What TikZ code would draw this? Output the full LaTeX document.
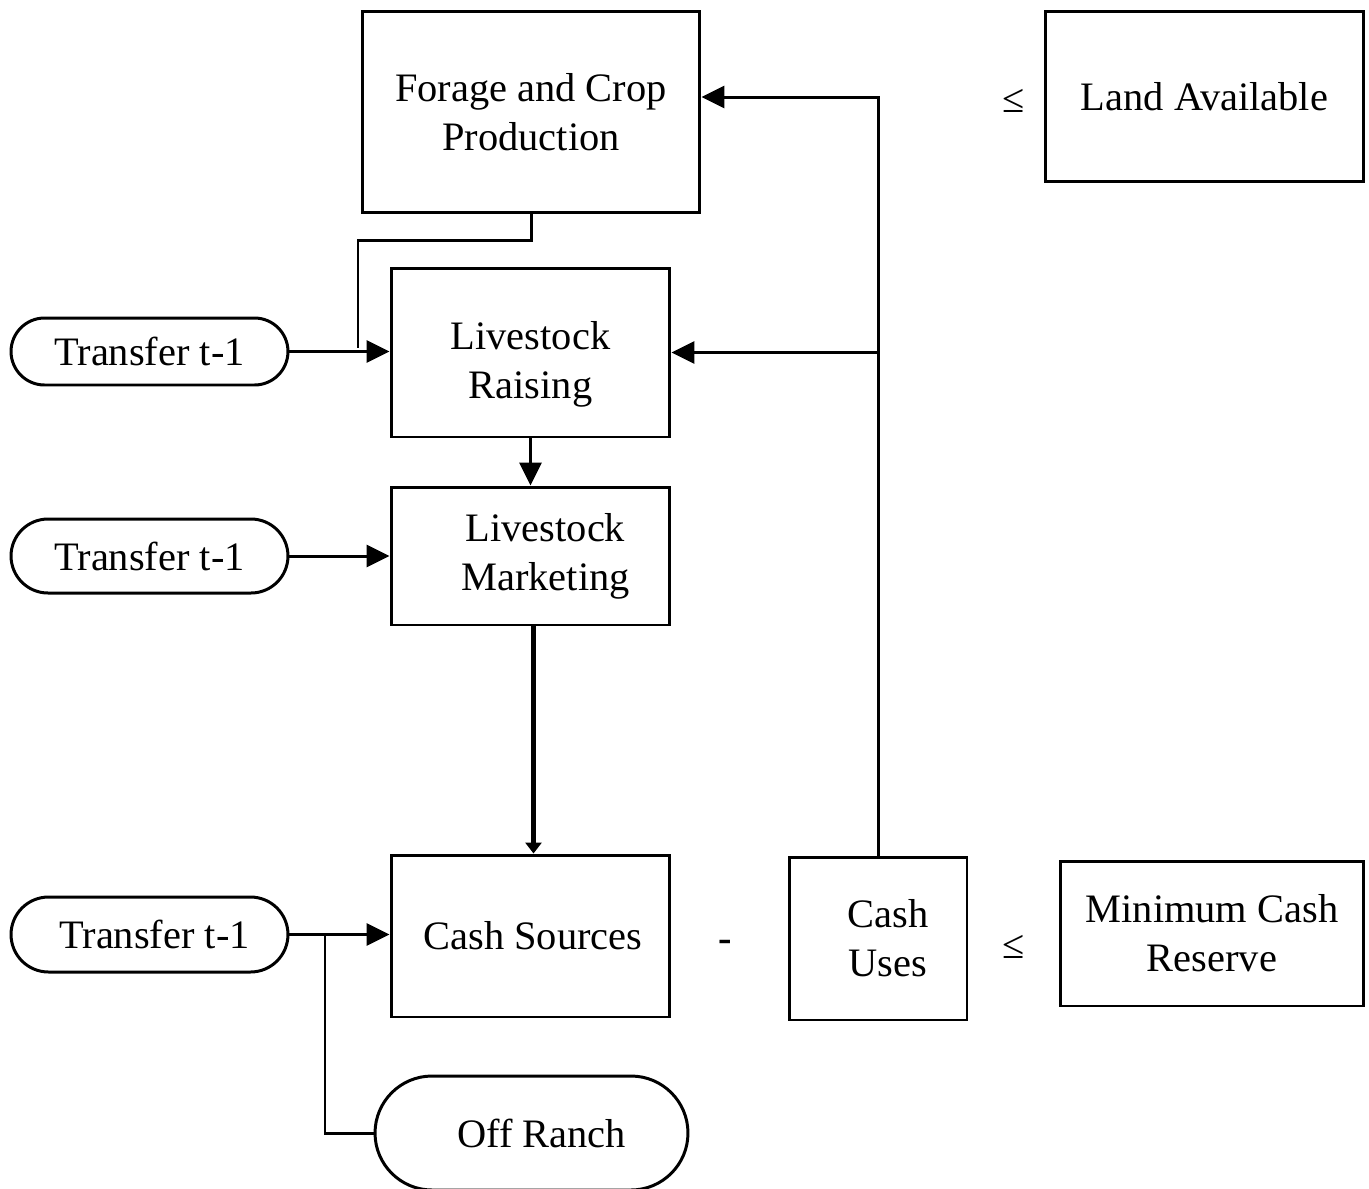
\documentclass[tikz,border=0pt]{standalone}
\usepackage{fontspec}
\setmainfont{Liberation Serif}
\usetikzlibrary{arrows.meta}

\begin{document}
\begin{tikzpicture}[x=0.02cm,y=-0.02cm,
    box/.style={draw,line width=1.7pt,inner sep=0pt,align=center,
        font=\fontsize{23}{28}\selectfont},
    stadium/.style={box,rounded corners=#1},
    link/.style={line width=1.7pt},
    arr/.style={link,-{Triangle[length=0.46cm,width=0.44cm]}},
    txt/.style={font=\fontsize{23}{28}\selectfont}]

    \useasboundingbox (0,0) rectangle (1369,1188);

    % activity blocks
    \node[box,minimum width=6.76cm,minimum height=4.04cm] (forage) at (531,112) {Forage and Crop\\Production};
    \node[box,minimum width=5.58cm,minimum height=3.38cm] (raising) at (530.5,352.5) {\rule{0pt}{1.05cm}Livestock\\Raising};
    \node[box,minimum width=5.58cm,minimum height=2.76cm] (marketing) at (530.5,556) {\hspace{0.6cm}Livestock\\\hspace{0.6cm}Marketing};
    \node[box,minimum width=5.58cm,minimum height=3.24cm] (sources) at (530.5,936) {\hspace{0.1cm}Cash Sources};
    \node[box,minimum width=3.56cm,minimum height=3.26cm] (uses) at (878,938.5) {\hspace{0.4cm}Cash\\\hspace{0.4cm}Uses};

    % right hand sides
    \node[box,minimum width=6.38cm,minimum height=3.42cm] (land) at (1204.5,96.5) {Land Available};
    \node[box,minimum width=6.08cm,minimum height=2.90cm] (reserve) at (1212,933.5) {Minimum Cash\\Reserve};
    \node[txt] (le1) at (1014,101) {≤};
    \node[txt] (le2) at (1014,947) {≤};
    \node[txt] (minus) at (725,946) {\textbf{-}};

    % transfers
    \node[stadium=0.67cm,minimum width=5.54cm,minimum height=1.34cm] (tr1) at (149.5,351.5) {Transfer t-1};
    \node[stadium=0.74cm,minimum width=5.54cm,minimum height=1.48cm] (tr2) at (149.5,556) {Transfer t-1};
    \node[stadium=0.75cm,minimum width=5.54cm,minimum height=1.50cm] (tr3) at (149.5,934.5) {\hspace{0.2cm}Transfer t-1};
    \node[stadium=1.14cm,minimum width=6.26cm,minimum height=2.28cm] (offranch) at (531.5,1133) {\hspace{0.4cm}Off Ranch};

    % feed to livestock
    \coordinate (feedend) at (358,348);
    \draw[link] (forage.south) -- ++(0,26) -| (feedend);
    \draw[arr] (tr1.east) -- (tr1.east -| raising.west);
    \draw[arr] (raising) -- (marketing);
    \draw[arr] (tr2.east) -- (tr2.east -| marketing.west);

    % sales to cash
    \draw[line width=2.8pt,-{Triangle[length=0.22cm,width=0.32cm]}]
        ([xshift=0.06cm]marketing.south) -- ([xshift=0.06cm]sources.north);
    \draw[arr] (tr3.east) -- (tr3.east -| sources.west);
    \coordinate (split) at (325,935);
    \draw[link] (split) |- (offranch.west);

    % cash uses feed back
    \coordinate (bend) at (878,97);
    \draw[arr] (uses.north) -- (bend) -- (bend -| forage.east);
    \draw[arr] (uses.north |- raising.east) -- (raising.east);

\end{tikzpicture}
\end{document}
